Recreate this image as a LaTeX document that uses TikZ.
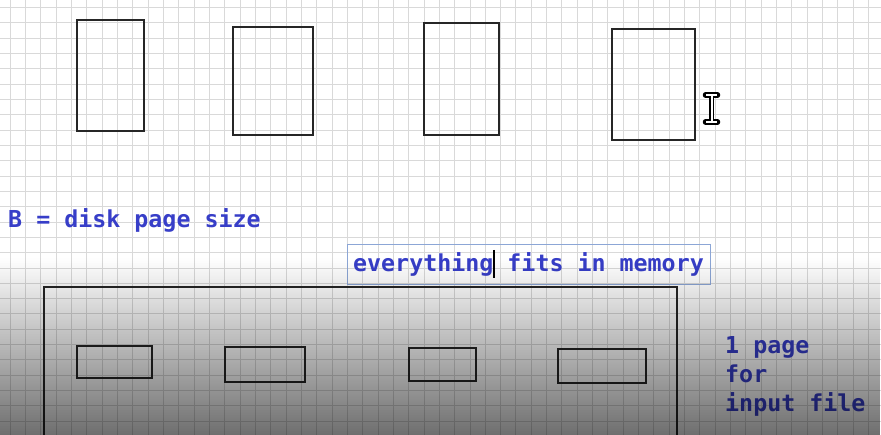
\documentclass[tikz,border=0pt]{standalone}
\usepackage{fontspec}
\setmonofont{DejaVu Sans Mono}
\usetikzlibrary{fadings}

\definecolor{penblue}{RGB}{55,62,200}
\definecolor{boxblue}{RGB}{140,166,214}
\tikzfading[name=fade down, top color=transparent!100, bottom color=transparent!0]

\begin{document}
\begin{tikzpicture}[x=1pt, y=-1pt]
            \tikzset{
                gridline/.style={draw=black!15, line width=0.8pt},
                diskpage/.style={
                        draw=black!85, line width=1.2pt, minimum width=#1, inner sep=0pt
                    },
                pen/.style={
                        text=penblue, font=\ttfamily\bfseries\fontsize{23.3}{29}\selectfont,
                        inner sep=0pt
                    }
            }
            \useasboundingbox (0,0) rectangle (881,435);
            \fill[white] (0,0) rectangle (881,435);

            % Grid paper
            \foreach \i in {0,...,56}
                \draw[gridline] ({10+15.33*\i},0) -- ++(0,435);
            \foreach \j in {0,...,27}
                \draw[gridline] (0,{7.3+15.33*\j}) -- ++(881,0);

            % Pages on disk
            \node[diskpage=67, minimum height=111] (p1) at (110.5,75.5) {};
            \node[diskpage=80, minimum height=108] (p2) at (273,81) {};
            \node[diskpage=75, minimum height=112] (p3) at (461.5,79) {};
            \node[diskpage=83, minimum height=111] (p4) at (653.5,84.5) {};

            % Text cursor
            \draw[line width=5.5pt, line cap=round] (705.5,95) -- (717.5,95) (711.5,95) -- (711.5,122) (705.5,122) -- (717.5,122);
            \draw[white, line width=2pt] (706,95) -- (717,95) (711.5,95) -- (711.5,122) (706,122) -- (717,122);

            % Labels
            \node[pen, anchor=base west] (psize) at (8,228) {B = disk page size};
            \node[pen, draw=boxblue, line width=0.8pt, minimum width=363, minimum height=40] (fits) at (528.5,264) {everything fits in memory};
            \draw[line width=1.5pt] (494,250) -- (494,278);

            % Memory
            \draw[draw=black!85, line width=1.2pt] (44,440) |- (677,287) -- (677,440);
            \node[diskpage=75, minimum height=32] (m1) at (114.5,362) {};
            \node[diskpage=80, minimum height=35] (m2) at (265,364.5) {};
            \node[diskpage=67, minimum height=33] (m3) at (442.5,364.5) {};
            \node[diskpage=88, minimum height=34] (m4) at (602,366) {};

            \node[pen, anchor=base west, align=left] (input) at (725,412) {1 page\\for\\input file};

            % Darkening towards the bottom
            \fill[black, opacity=0.57, path fading=fade down] (0,258) rectangle (881,435);
        \end{tikzpicture}
\end{document}
